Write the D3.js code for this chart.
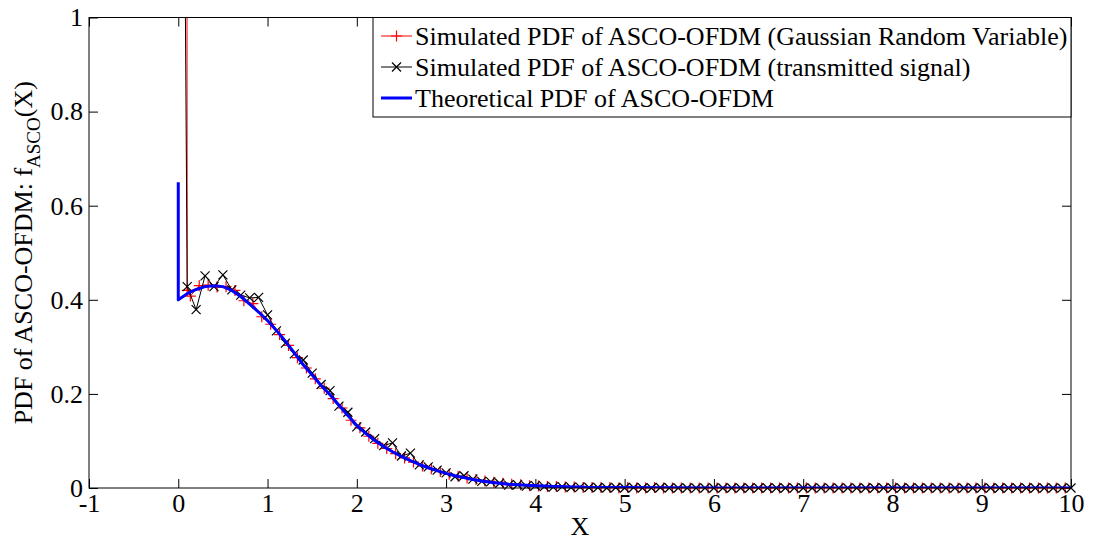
<!DOCTYPE html>
<html>
<head>
<meta charset="utf-8">
<script src="https://cdn.jsdelivr.net/npm/d3@7"></script>
<style>
    body { margin: 0; background: #fff; }
    text { font-family: "Liberation Serif", "Times New Roman", serif; }
</style>
</head>
<body>
<div class="chart-container"></div>
<script>
// chart data
const xTicks = [-1, 0, 1, 2, 3, 4, 5, 6, 7, 8, 9, 10];
const yTicks = [0, 0.2, 0.4, 0.6, 0.8, 1];
const yTickLabels = ['0', '0.2', '0.4', '0.6', '0.8', '1'];

const seriesNames = [
    'Simulated PDF of ASCO-OFDM (Gaussian Random Variable)',
    'Simulated PDF of ASCO-OFDM (transmitted signal)',
    'Theoretical PDF of ASCO-OFDM'
];

// simulated, gaussian random variable: spike near 0, then x = 0.135, 0.235, ... 9.935
const gaussX = [0.09, 0.1, ...d3.range(1, 100).map(i => +(0.035 + i * 0.1).toFixed(3))];
const gaussY = [
    3.300, 0.420,
           0.408, 0.430, 0.431, 0.427, 0.428, 0.420, 0.398, 0.392, 0.364,
    0.348, 0.326, 0.303, 0.277, 0.255, 0.232, 0.212, 0.190, 0.170, 0.144,
    0.128, 0.110, 0.095, 0.084, 0.073, 0.064, 0.055, 0.047, 0.041, 0.035,
    0.029, 0.025, 0.021, 0.018, 0.015, 0.012, 0.010, 0.008, 0.007, 0.005,
    0.004, 0.003, 0.003, 0.002, 0.002, 0.001, 0.001, 0.001, 0.001, 0.000,
    0.001, 0.000, 0.000, 0.001, 0.000, 0.000, 0.000, 0.000, 0.000, 0.000,
    0.000, 0.000, 0.000, 0.000, 0.000, 0.000, 0.000, 0.000, 0.000, 0.000,
    0.000, 0.000, 0.000, 0.000, 0.000, 0.000, 0.000, 0.000, 0.000, 0.000,
    0.000, 0.000, 0.000, 0.000, 0.000, 0.000, 0.000, 0.000, 0.000, 0.000,
    0.000, 0.000, 0.000, 0.000, 0.000, 0.000, 0.000, 0.000, 0.000, 0.000
];

// simulated, transmitted signal: x = 0, 0.1, ... 10
const signalX = d3.range(101).map(i => +(i * 0.1).toFixed(1));
const signalY = [
    3.300, 0.428, 0.379, 0.451, 0.428, 0.453, 0.421, 0.410, 0.404, 0.405,
    0.368, 0.334, 0.308, 0.285, 0.272, 0.244, 0.220, 0.207, 0.174, 0.161,
    0.130, 0.119, 0.105, 0.090, 0.096, 0.068, 0.074, 0.049, 0.045, 0.038,
    0.032, 0.024, 0.026, 0.019, 0.014, 0.013, 0.010, 0.006, 0.007, 0.004,
    0.005, 0.003, 0.002, 0.003, 0.001, 0.002, 0.001, 0.001, 0.000, 0.001,
    0.000, 0.001, 0.000, 0.000, 0.001, 0.000, 0.000, 0.000, 0.000, 0.000,
    0.000, 0.000, 0.000, 0.000, 0.000, 0.000, 0.000, 0.000, 0.000, 0.000,
    0.000, 0.000, 0.000, 0.000, 0.000, 0.000, 0.000, 0.000, 0.000, 0.000,
    0.000, 0.000, 0.000, 0.000, 0.000, 0.000, 0.000, 0.000, 0.000, 0.000,
    0.000, 0.000, 0.000, 0.000, 0.000, 0.000, 0.000, 0.000, 0.000, 0.000,
    0.000
];

// theoretical curve (vertical jump at 0 first)
const theoryX = [0, ...d3.range(51).map(i => +(i * 0.1).toFixed(1)), 6, 7, 8, 9, 10];
const theoryY = [
    0.650,
    0.400, 0.413, 0.422, 0.428, 0.430, 0.428, 0.420, 0.407, 0.391, 0.374,
    0.356, 0.335, 0.312, 0.287, 0.262, 0.240, 0.218, 0.198, 0.176, 0.154,
    0.133, 0.116, 0.101, 0.088, 0.077, 0.067, 0.058, 0.050, 0.043, 0.037,
    0.031, 0.026, 0.022, 0.018, 0.015, 0.012, 0.010, 0.008, 0.007, 0.006,
    0.005, 0.004, 0.003, 0.003, 0.002, 0.002, 0.001, 0.001, 0.001, 0.001,
    0.001, 0.000, 0.000, 0.000, 0.000, 0.000
];

const zip = (xs, ys) => xs.map((x, i) => ({ x: x, y: ys[i] }));

const series = [
    { name: seriesNames[0], color: '#ff0000', width: 1, marker: 'plus', values: zip(gaussX, gaussY) },
    { name: seriesNames[1], color: '#000000', width: 1, marker: 'cross', values: zip(signalX, signalY) },
    { name: seriesNames[2], color: '#0000ff', width: 3, marker: null, values: zip(theoryX, theoryY) }
];

const markerPath = {
    plus: 'M-5.5,0H5.5M0,-5.5V5.5',
    cross: 'M-4.5,-4.5L4.5,4.5M-4.5,4.5L4.5,-4.5'
};

// layout
const W = 1093, H = 540;
const margin = { top: 17.5, right: 22, bottom: 52, left: 89 };
const width = W - margin.left - margin.right;
const height = H - margin.top - margin.bottom;
const fontSize = 26;

const xScale = d3.scaleLinear().domain([-1, 10]).range([0, width]);
const yScale = d3.scaleLinear().domain([0, 1]).range([height, 0]);

const svg = d3.select('.chart-container')
    .append('svg')
    .attr('width', W)
    .attr('height', H)
    .append('g')
    .attr('transform', `translate(${margin.left}, ${margin.top})`);

svg.append('clipPath')
    .attr('id', 'plot-clip')
    .append('rect')
    .attr('width', width)
    .attr('height', height);

// axes (ticks pointing inward on all four sides)
const tickLen = 9;

const xAxis = d3.axisBottom(xScale)
    .tickValues(xTicks)
    .tickFormat(d => String(d))
    .tickSizeInner(-tickLen)
    .tickSizeOuter(0)
    .tickPadding(6);

const yAxis = d3.axisLeft(yScale)
    .tickValues(yTicks)
    .tickFormat((d, i) => yTickLabels[i])
    .tickSizeInner(-tickLen)
    .tickSizeOuter(0)
    .tickPadding(6);

function styleAxis(g) {
    g.select('.domain').remove();
    g.selectAll('line').attr('stroke', '#000');
    g.selectAll('text')
        .attr('fill', '#000')
        .style('font-size', fontSize + 'px')
        .style('font-family', '"Liberation Serif", "Times New Roman", serif');
}

svg.append('g')
    .attr('class', 'x axis')
    .attr('transform', `translate(0, ${height})`)
    .call(xAxis)
    .call(styleAxis);

svg.append('g')
    .attr('class', 'y axis')
    .call(yAxis)
    .call(styleAxis);

svg.append('g')
    .attr('class', 'x axis top')
    .call(d3.axisTop(xScale).tickValues(xTicks).tickFormat('').tickSizeInner(-tickLen).tickSizeOuter(0))
    .call(styleAxis);

svg.append('g')
    .attr('class', 'y axis right')
    .attr('transform', `translate(${width}, 0)`)
    .call(d3.axisRight(yScale).tickValues(yTicks).tickFormat('').tickSizeInner(-tickLen).tickSizeOuter(0))
    .call(styleAxis);

// lines
const lineGen = d3.line()
    .x(d => xScale(d.x))
    .y(d => yScale(d.y));

const chartGroup = svg.append('g').attr('class', 'line-chart');

series.forEach(s => {
    chartGroup.append('path')
        .attr('clip-path', 'url(#plot-clip)')
        .attr('d', lineGen(s.values))
        .style('fill', 'none')
        .style('stroke', s.color)
        .style('stroke-width', s.width)
        .style('stroke-linejoin', 'round');

    if (s.marker) {
        chartGroup.append('g')
            .selectAll('path')
            .data(s.values.filter(d => d.y <= 1))
            .enter()
            .append('path')
            .attr('transform', d => `translate(${xScale(d.x)}, ${yScale(d.y)})`)
            .attr('d', markerPath[s.marker])
            .style('fill', 'none')
            .style('stroke', s.color)
            .style('stroke-width', 1.2);
    }
});

// plot box
svg.append('rect')
    .attr('width', width)
    .attr('height', height)
    .style('fill', 'none')
    .style('stroke', '#000')
    .style('stroke-width', 1);

// axis labels
svg.append('text')
    .attr('x', width / 2)
    .attr('y', height + 47)
    .attr('text-anchor', 'middle')
    .style('font-size', fontSize + 'px')
    .text('X');

const yLabel = svg.append('text')
    .attr('transform', `translate(${32 - margin.left}, ${height / 2}) rotate(-90)`)
    .attr('text-anchor', 'middle')
    .style('font-size', fontSize + 'px');
yLabel.append('tspan').text('PDF of ASCO-OFDM: f');
yLabel.append('tspan').text('ASCO').attr('dy', 8).style('font-size', '19px');
yLabel.append('tspan').text('(X)').attr('dy', -8);

// legend
const legendLeft = 373 - margin.left;
const legend = svg.append('g')
    .attr('class', 'legend')
    .attr('transform', `translate(${legendLeft}, 0)`);

legend.append('rect')
    .attr('width', width - legendLeft)
    .attr('height', 99.5)
    .style('fill', '#fff')
    .style('stroke', '#000');

const rows = legend.selectAll('.legend-row')
    .data(series)
    .enter()
    .append('g')
    .attr('class', 'legend-row')
    .attr('transform', (d, i) => `translate(0, ${18.5 + i * 31})`);

rows.append('line')
    .attr('x1', 8)
    .attr('x2', 39)
    .style('stroke', d => d.color)
    .style('stroke-width', d => d.width);

rows.filter(d => d.marker)
    .append('path')
    .attr('transform', 'translate(23.5, 0)')
    .attr('d', d => markerPath[d.marker])
    .style('fill', 'none')
    .style('stroke', d => d.color)
    .style('stroke-width', 1.2);

rows.append('text')
    .attr('x', 42)
    .attr('dy', '0.33em')
    .style('font-size', fontSize + 'px')
    .text(d => d.name);
</script>
</body>
</html>
